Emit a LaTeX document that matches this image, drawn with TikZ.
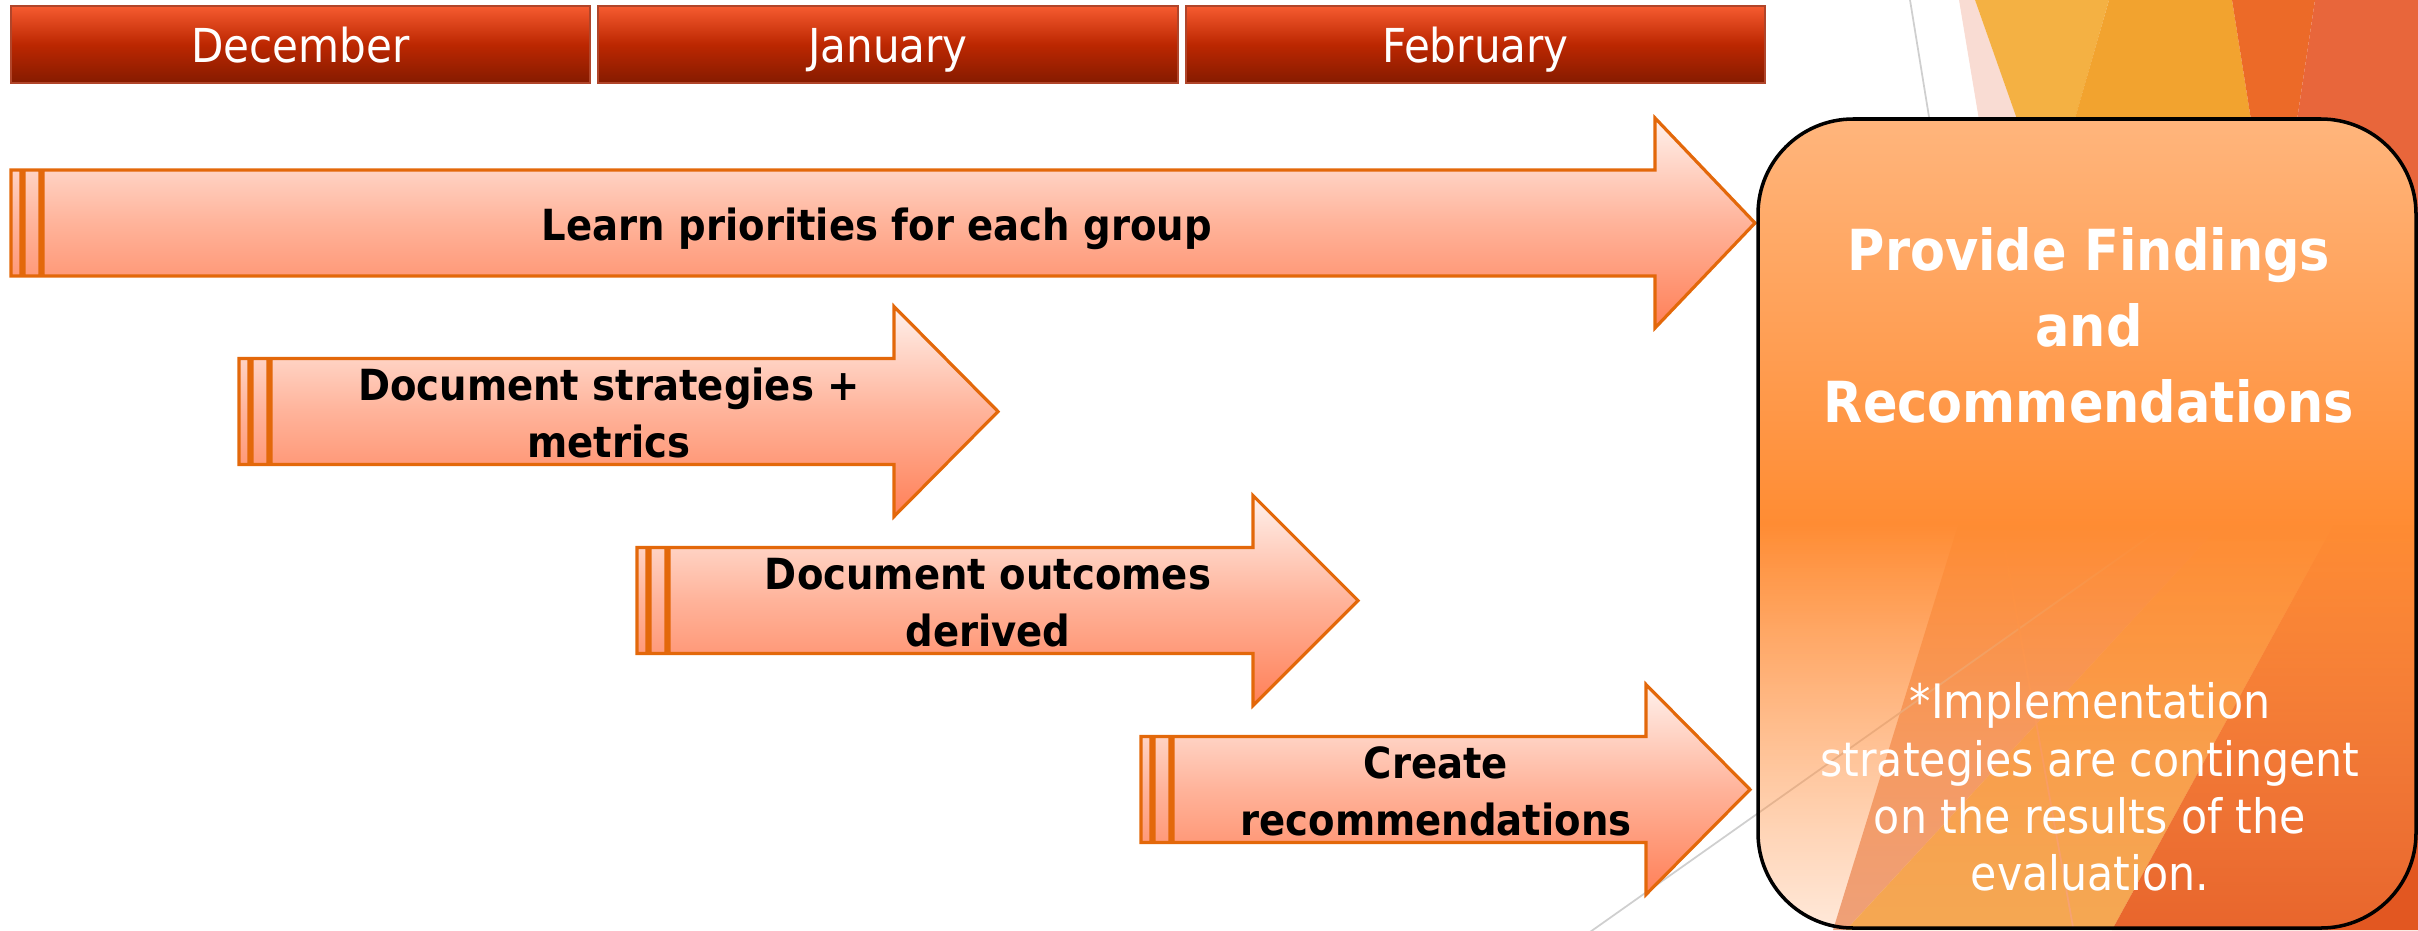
\documentclass[tikz,border=0pt]{standalone}
\usepackage{fontspec}
\setmainfont{DejaVu Sans}[FakeStretch=0.9]
\usepackage{tikz}
\usetikzlibrary{positioning,fadings}

\definecolor{monthtop}{HTML}{F65B30}
\definecolor{monthmid}{HTML}{BC2701}
\definecolor{monthbot}{HTML}{851B00}
\definecolor{monthline}{HTML}{B0452A}
\definecolor{arrowline}{HTML}{E3680A}
\definecolor{tasktop}{HTML}{FFF1EC}
\definecolor{taskmid}{HTML}{FFB39A}
\definecolor{taskbot}{HTML}{FF8058}
\definecolor{paneltop}{HTML}{FFB57C}
\definecolor{panelmid}{HTML}{FF8C33}
\definecolor{panelbot}{HTML}{FF9A55}
\definecolor{pinkfacet}{HTML}{F9DCD3}
\definecolor{yellowfacet}{HTML}{F4B143}
\definecolor{orangefacet}{HTML}{F2A32F}
\definecolor{darkfacet}{HTML}{EC6A28}
\definecolor{redfacet}{HTML}{E8663B}
\definecolor{salmonfacet}{HTML}{EAA282}
\definecolor{sunfacet}{HTML}{F2AC52}
\definecolor{emberfacet}{HTML}{E25721}
\definecolor{facetline}{HTML}{CFCFCF}

\tikzfading[name=panelfade, top color=transparent!0, bottom color=transparent!78, middle color=transparent!0]

\begin{document}
\begin{tikzpicture}[
    x=0.01cm, y=-0.01cm,
    month/.style={
		rectangle,
		draw=monthline,
		line width=0.6pt,
		top color=monthtop,
		bottom color=monthbot,
		middle color=monthmid,
		text=white,
		font=\fontsize{13.3}{16}\selectfont,
		text height=0.35cm,
		text depth=0pt,
		minimum width=5.79cm,
		minimum height=0.77cm,
		inner sep=0pt
	},
	task/.style={
		draw=arrowline,
		line width=0.9pt,
		top color=tasktop,
		bottom color=taskbot,
		middle color=taskmid
	},
	tasktext/.style={
		align=center,
		inner sep=0pt,
		font=\fontsize{12.2}{16.2}\selectfont\bfseries
	},
	gridline/.style={
		draw=facetline,
		line width=0.5pt
	}
  ]
  \useasboundingbox (0,0) rectangle (2418,930);

    % background facets on the right
  \fill[pinkfacet] (1959,0) -- (1975,0) -- (2060,240) -- (1999,240) -- cycle;
  \fill[yellowfacet] (1975,0) -- (2109,0) -- (2049,210) -- cycle;
  \fill[orangefacet] (2109,0) -- (2232,0) -- (2270,240) -- (2040,240) -- cycle;
  \fill[darkfacet] (2232,0) -- (2315,0) -- (2279,240) -- (2270,240) -- cycle;
  \fill[redfacet] (2315,0) -- (2418,0) -- (2418,240) -- (2279,240) -- cycle;
  \fill[salmonfacet] (1833,930) -- (1972,480) -- (2262,480) -- (1846,930) -- cycle;
  \fill[sunfacet] (1846,930) -- (2262,480) -- (2358,480) -- (2112,930) -- cycle;
  \fill[emberfacet] (2112,930) -- (2358,480) -- (2418,480) -- (2418,930) -- cycle;
  \draw[gridline] (1910,0) -- (1936,160);
  \draw[gridline] (1590,932) -- (2300,430);
  \draw[gridline, draw=darkfacet!60] (2005,550) -- (2073,927);

    % months
  \node[month] (dec) at (300.5,44.5) {December};
  \node[month, right=0.06cm of dec] (jan) {January};
  \node[month, right=0.06cm of jan] (feb) {February};

    % task arrows
  \path[task] (11,170) rectangle (21,276) (24,170) rectangle (40,276)
    (43,170) -- (1655,170) -- (1655,118) -- (1755,223) -- (1655,328) -- (1655,276) -- (43,276) -- cycle;
  \path[task] (239,358.5) rectangle (249,464.5) (252,358.5) rectangle (268,464.5)
    (271,358.5) -- (894,358.5) -- (894,306.5) -- (998,411.5) -- (894,516.5) -- (894,464.5) -- (271,464.5) -- cycle;
  \path[task] (637,547.5) rectangle (647,653.5) (650,547.5) rectangle (666,653.5)
    (669,547.5) -- (1253,547.5) -- (1253,495.5) -- (1358,600.5) -- (1253,705.5) -- (1253,653.5) -- (669,653.5) -- cycle;
  \path[task] (1141,736.5) rectangle (1151,842.5) (1154,736.5) rectangle (1170,842.5)
    (1173,736.5) -- (1646,736.5) -- (1646,684.5) -- (1750,789.5) -- (1646,894.5) -- (1646,842.5) -- (1173,842.5) -- cycle;

  \node[tasktext, anchor=base] (learn) at (877,240) {Learn priorities for each group};
  \node[tasktext] (strat) at (609,413) {Document strategies +\\metrics};
  \node[tasktext] (outc) at (988,603) {Document outcomes\\derived};
  \node[tasktext] (recom) at (1436,791) {Create\\recommendations};

    % findings panel
  \shade[rounded corners=0.95cm, top color=paneltop, bottom color=panelbot, middle color=panelmid, path fading=panelfade]
    (1758,119) rectangle (2416,928);
  \draw[rounded corners=0.95cm, line width=1pt] (1758,119) rectangle (2416,928);

  \node[align=center, inner sep=0pt, text=white, font=\fontsize{16.1}{21.6}\selectfont\bfseries] (findings) at (2089,325.5)
 {Provide Findings\\and\\Recommendations};
  \node[align=center, inner sep=0pt, text=white, font=\fontsize{13.5}{16.3}\selectfont] (note) at (2090,787)
 {*Implementation\\strategies are contingent\\on the results of the\\evaluation.};

\end{tikzpicture}
\end{document}
